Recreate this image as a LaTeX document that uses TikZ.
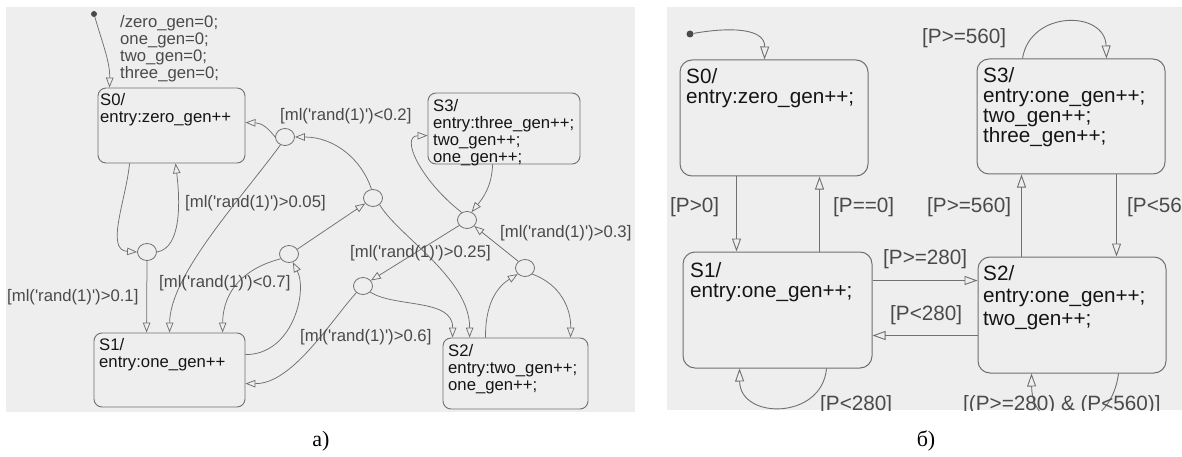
\documentclass[tikz,border=0pt]{standalone}
\usepackage{fontspec}
\usetikzlibrary{arrows.meta,shapes.geometric,calc}
\newfontfamily\arialf{Liberation Sans}
\newfontfamily\capf{Liberation Serif}
\newcommand\aq{\textquotesingle}
\definecolor{panelbg}{HTML}{EEEEEE}
\definecolor{linegray}{HTML}{707070}
\definecolor{labgray}{HTML}{4A4A4A}
\definecolor{txtdark}{HTML}{151515}
\begin{document}
\begin{tikzpicture}[x=1pt,y=-1pt,
  stA/.style={draw=linegray, line width=0.9pt, rounded corners=8pt, inner sep=0pt},
  stB/.style={draw=linegray, line width=1pt, rounded corners=12pt, inner sep=0pt},
  juncA/.style={draw=linegray, line width=0.8pt, ellipse, minimum width=19pt, minimum height=17pt, inner sep=0pt},
  dotst/.style={circle, fill=labgray, minimum size=6pt, inner sep=0pt},
  trA/.style={draw=linegray, line width=0.75pt, -{Triangle[open, length=10pt, width=7.5pt]}},
  trB/.style={draw=linegray, line width=0.9pt, -{Triangle[open, length=13pt, width=9pt]}},
  txtA/.style={font=\arialf\fontsize{16.7}{17}\selectfont, text=txtdark, align=left, anchor=north west, inner sep=0pt},
  txtAg/.style={txtA, text=labgray},
  labA/.style={font=\arialf\fontsize{16.7}{17}\selectfont, text=labgray, anchor=west, inner sep=0pt},
  txtB/.style={font=\arialf\fontsize{20.7}{19.8}\selectfont, text=txtdark, align=left, anchor=north west, inner sep=0pt},
  labB/.style={font=\arialf\fontsize{20.7}{19.8}\selectfont, text=labgray, anchor=west, inner sep=0pt},
  capst/.style={font=\capf\fontsize{22}{22}\selectfont, text=black, inner sep=0pt}
]
\useasboundingbox (0,0) rectangle (1182,457);
\fill[panelbg] (6,7) rectangle (635,412);
\fill[panelbg] (667,7) rectangle (1182,410);

% ---------------- panel a ----------------
\node[stA, minimum width=147pt, minimum height=75pt] (S0) at (171.5,125.5) {};
\node[stA, minimum width=151pt, minimum height=74pt] (S1) at (169.5,370) {};
\node[stA, minimum width=152pt, minimum height=71pt] (S3) at (504,128.5) {};
\node[stA, minimum width=145pt, minimum height=71pt] (S2) at (515.5,373.5) {};

\node[txtAg] (T0) at (120,15) {/zero\_gen=0;\\one\_gen=0;\\two\_gen=0;\\three\_gen=0;};
\node[txtA] (S0t) at (100,93.5) {S0/\\entry:zero\_gen++};
\node[txtA] (S1t) at (99,338) {S1/\\entry:one\_gen++};
\node[txtA] (S3t) at (433,99.5) {S3/\\entry:three\_gen++;\\two\_gen++;\\one\_gen++;};
\node[txtA] (S2t) at (448,344) {S2/\\entry:two\_gen++;\\one\_gen++;};

\node[juncA] (J1) at (147,252) {};
\node[juncA] (J2) at (285,137) {};
\node[juncA] (J3) at (373,198) {};
\node[juncA] (J4) at (289,254) {};
\node[juncA] (J5) at (363,286) {};
\node[juncA] (J6) at (467,220) {};
\node[juncA] (J7) at (525,268) {};
\node[dotst] (Ia) at (94,14) {};

\draw[trA] (Ia) .. controls (103,45) and (110,62) .. ($(S0.north west)+(12,0)$);
\draw[trA] ($(S0.south west)+(32,0)$) .. controls (126,200) and (105,250) .. (J1.west);
\draw[trA] (J1.east) .. controls (182,248) and (180,200) .. ($(S0.south west)+(78,0)$);
\draw[trA] (J1.south) -- ($(S1.north west)+(53,0)$);
\draw[trA] (J2.west) .. controls (268,128) and (262,123) .. ($(S0.north east)+(0,35)$);
\draw[trA] (J3.100) .. controls (362,160) and (335,137) .. (J2.east);
\draw[trA] (J2.240) .. controls (240,200) and (170,275) .. ($(S1.north west)+(76,0)$);
\draw[trA] (J4.30) -- (J3.215);
\draw[trA] ($(S1.north east)+(0,22)$) .. controls (292,355) and (308,292) .. (J4.295);
\draw[trA] (J4.210) .. controls (245,268) and (223,290) .. ($(S1.north west)+(129,0)$);
\draw[trA] (J3.315) .. controls (397,235) and (470,278) .. ($(S2.north west)+(27,0)$);
\draw[trA] ($(S3.south west)+(65,0)$) .. controls (492,186) and (483,198) .. (J6.60);
\draw[trA] (J6.125) .. controls (420,180) and (400,136) .. ($(S3.north west)+(0,43)$);
\draw[trA] (J6.215) -- (J5.35);
\draw[trA] (J7.135) -- (J6.320);
\draw[trA] ($(S2.north west)+(43,0)$) .. controls (485,300) and (500,285) .. (J7.220);
\draw[trA] (J7.320) .. controls (562,285) and (571,310) .. ($(S2.north west)+(128,0)$);
\draw[trA] (J5.320) .. controls (395,308) and (453,298) .. ($(S2.north west)+(10,0)$);
\draw[trA] (J5.225) .. controls (330,322) and (292,384) .. ($(S1.north east)+(0,51)$);

\node[labA] (La1) at (185,203) {[ml(\aq rand(1)\aq)>0.05]};
\node[labA] (La2) at (280,116) {[ml(\aq rand(1)\aq)<0.2]};
\node[labA] (La3) at (7,297) {[ml(\aq rand(1)\aq)>0.1]};
\node[labA] (La4) at (159,283) {[ml(\aq rand(1)\aq)<0.7]};
\node[labA] (La5) at (350,253) {[ml(\aq rand(1)\aq)>0.25]};
\node[labA] (La6) at (500,233) {[ml(\aq rand(1)\aq)>0.3]};
\node[labA] (La7) at (300,337) {[ml(\aq rand(1)\aq)>0.6]};

% ---------------- panel b ----------------
\begin{scope}
\clip (667,7) rectangle (1182,410);
\node[stB, minimum width=188pt, minimum height=116pt] (S0b) at (774,118) {};
\node[stB, minimum width=189pt, minimum height=116pt] (S1b) at (777.5,310) {};
\node[stB, minimum width=188pt, minimum height=116pt] (S2b) at (1072,315) {};
\node[stB, minimum width=188pt, minimum height=115pt] (S3b) at (1071,116.5) {};

\node[txtB] (S0bt) at (686,68.4) {S0/\\entry:zero\_gen++;};
\node[txtB] (S1bt) at (690,262.4) {S1/\\entry:one\_gen++;};
\node[txtB, font=\arialf\fontsize{20.7}{22.5}\selectfont] (S2bt) at (983,265) {S2/\\entry:one\_gen++;\\two\_gen++;};
\node[txtB] (S3bt) at (983,67.5) {S3/\\entry:one\_gen++;\\two\_gen++;\\three\_gen++;};

\node[dotst, minimum size=7pt] (Ib) at (690,34) {};
\draw[trB] (Ib) .. controls (730,27) and (765,28) .. ($(S0b.north west)+(85,0)$);
\draw[trB] ($(S0b.south west)+(57,0)$) -- ($(S1b.north west)+(54,0)$);
\draw[trB] ($(S1b.north west)+(137,0)$) -- ($(S0b.south west)+(140,0)$);
\draw[trB] ($(S1b.north east)+(0,29)$) -- ($(S2b.north west)+(0,24)$);
\draw[trB] ($(S2b.north west)+(0,79)$) -- ($(S1b.north east)+(0,84)$);
\draw[trB] ($(S3b.north west)+(46,0)$) .. controls (1030,10) and (1105,10) .. ($(S3b.north west)+(130,0)$);
\draw[trB] ($(S2b.north west)+(44,0)$) -- ($(S3b.south west)+(45,0)$);
\draw[trB] ($(S3b.south west)+(140,0)$) -- ($(S2b.north west)+(139,0)$);
\draw[trB] ($(S1b.south west)+(144,0)$) .. controls (822,420) and (740,420) .. ($(S1b.south west)+(57,0)$);
\draw[trB] ($(S2b.south west)+(141,0)$) .. controls (1110,440) and (1032,440) .. ($(S2b.south west)+(54,0)$);

\node[labB] (Lb1) at (670,207) {[P>0]};
\node[labB] (Lb2) at (833,207) {[P==0]};
\node[labB] (Lb3) at (883,259) {[P>=280]};
\node[labB] (Lb4) at (890,315) {[P<280]};
\node[labB] (Lb5) at (922,38) {[P>=560]};
\node[labB] (Lb6) at (927,207) {[P>=560]};
\node[labB] (Lb7) at (1127,207) {[P<560]};
\node[labB] (Lb8) at (820,405) {[P<280]};
\node[labB] (Lb9) at (963,405) {[(P>=280) \& (P<560)]};
\end{scope}

\node[capst] (capa) at (321,441) {а)};
\node[capst] (capb) at (926,441) {б)};
\end{tikzpicture}
\end{document}
